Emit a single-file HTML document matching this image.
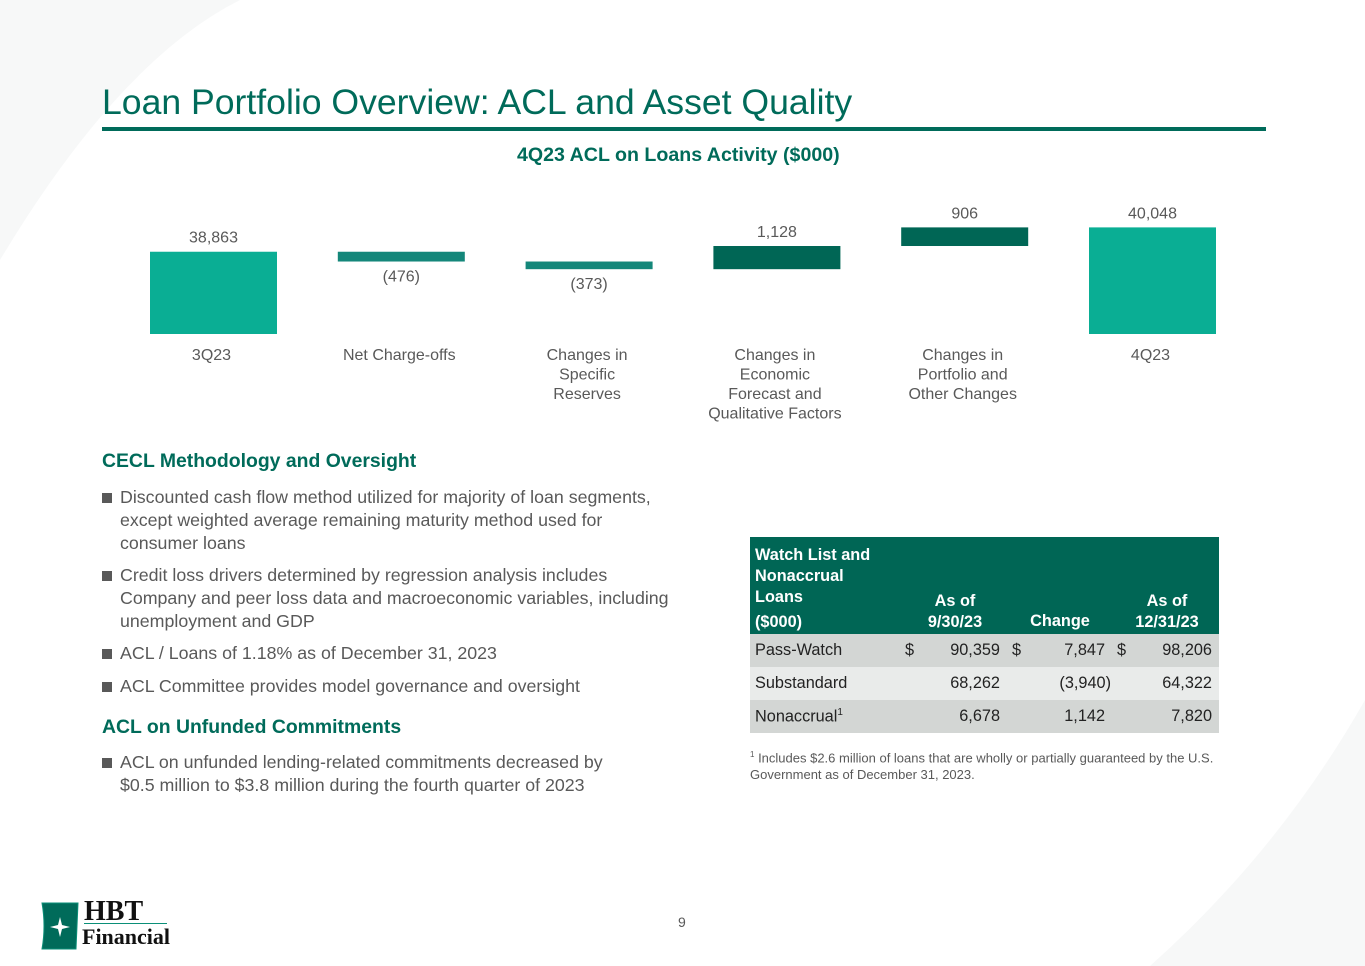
<!DOCTYPE html>
<html><head><meta charset="utf-8">
<style>
*{margin:0;padding:0;box-sizing:border-box}
body{width:1365px;height:966px;position:relative;background:#fff;font-family:"Liberation Sans",Arial,sans-serif;overflow:hidden}
.abs{position:absolute}
.bul{position:absolute;left:102px;font-size:17.8px;color:#595959;line-height:23px}
.bul span.sq{position:absolute;left:0;top:7px;width:10px;height:10px;background:#595959}
.bul div{margin-left:18px}
.hd{position:absolute;left:102px;font-size:19.4px;font-weight:bold;color:#006b5a}
.cell{position:absolute;font-size:16.3px;color:#222}
</style></head><body>
<svg class="abs" style="left:0;top:0" width="1365" height="966">
<path d="M0 260 Q120 60 240 0 L0 0 Z" fill="#f7f8f8"/>
<path d="M1365 700 Q1280 850 1150 966 L1365 966 Z" fill="#f7f8f8"/>
</svg>
<div class="abs" style="left:102px;top:82px;font-size:35.6px;color:#006b5a">Loan Portfolio Overview: ACL and Asset Quality</div>
<div class="abs" style="left:102px;top:127px;width:1164px;height:4px;background:#006b5a"></div>
<div class="abs" style="left:517px;top:144px;font-size:19.6px;font-weight:bold;color:#006b5a">4Q23 ACL on Loans Activity ($000)</div>
<svg id="chart" class="abs" style="left:0;top:190px" width="1365" height="240"></svg>

<div class="hd" style="top:450px">CECL Methodology and Oversight</div>
<div class="bul" style="top:486px"><span class="sq"></span><div>Discounted cash flow method utilized for majority of loan segments,<br>except weighted average remaining maturity method used for<br>consumer loans</div></div>
<div class="bul" style="top:564px"><span class="sq"></span><div>Credit loss drivers determined by regression analysis includes<br>Company and peer loss data and macroeconomic variables, including<br>unemployment and GDP</div></div>
<div class="bul" style="top:642px"><span class="sq"></span><div>ACL / Loans of 1.18% as of December 31, 2023</div></div>
<div class="bul" style="top:675px"><span class="sq"></span><div>ACL Committee provides model governance and oversight</div></div>
<div class="hd" style="top:716px">ACL on Unfunded Commitments</div>
<div class="bul" style="top:751px"><span class="sq"></span><div>ACL on unfunded lending-related commitments decreased by<br>$0.5 million to $3.8 million during the fourth quarter of 2023</div></div>

<div class="abs" style="left:750px;top:537px;width:469px;height:196px">
 <div class="abs" style="left:0;top:0;width:469px;height:97px;background:#006655"></div>
 <div class="abs" style="left:0;top:97px;width:469px;height:33px;background:#d3d6d4"></div>
 <div class="abs" style="left:0;top:130px;width:469px;height:33px;background:#e9ebea"></div>
 <div class="abs" style="left:0;top:163px;width:469px;height:33px;background:#d3d6d4"></div>
 <div class="cell" style="left:5px;top:8px;color:#fff;font-weight:bold;font-size:16.3px;line-height:21px">Watch List and<br>Nonaccrual<br>Loans<br><span style="display:block;margin-top:4px">($000)</span></div>
 <div class="cell" style="left:150px;width:110px;top:54px;color:#fff;font-weight:bold;text-align:center;line-height:21px">As of<br>9/30/23</div>
 <div class="cell" style="left:270px;width:80px;top:75px;color:#fff;font-weight:bold;text-align:center">Change</div>
 <div class="cell" style="left:362px;width:110px;top:54px;color:#fff;font-weight:bold;text-align:center;line-height:21px">As of<br>12/31/23</div>
 <div class="cell" style="left:5px;top:104px">Pass-Watch</div>
 <div class="cell" style="left:155px;top:104px">$</div>
 <div class="cell" style="left:150px;width:100px;top:104px;text-align:right">90,359</div>
 <div class="cell" style="left:262px;top:104px">$</div>
 <div class="cell" style="left:255px;width:100px;top:104px;text-align:right">7,847</div>
 <div class="cell" style="left:367px;top:104px">$</div>
 <div class="cell" style="left:362px;width:100px;top:104px;text-align:right">98,206</div>
 <div class="cell" style="left:5px;top:137px">Substandard</div>
 <div class="cell" style="left:150px;width:100px;top:137px;text-align:right">68,262</div>
 <div class="cell" style="left:260px;width:101px;top:137px;text-align:right">(3,940)</div>
 <div class="cell" style="left:362px;width:100px;top:137px;text-align:right">64,322</div>
 <div class="cell" style="left:5px;top:170px">Nonaccrual<sup style="font-size:10px">1</sup></div>
 <div class="cell" style="left:150px;width:100px;top:170px;text-align:right">6,678</div>
 <div class="cell" style="left:255px;width:100px;top:170px;text-align:right">1,142</div>
 <div class="cell" style="left:362px;width:100px;top:170px;text-align:right">7,820</div>
</div>
<div class="abs" style="left:750px;top:746px;font-size:13px;color:#595959;line-height:17px"><sup style="font-size:8px">1</sup> Includes $2.6 million of loans that are wholly or partially guaranteed by the U.S.<br>Government as of December 31, 2023.</div>

<div class="abs" style="left:678px;top:914px;font-size:14px;color:#595959">9</div>
<div class="abs" style="left:40px;top:900px;width:130px;height:52px">
 <svg width="40" height="50" style="position:absolute;left:0;top:2px"><path d="M2 1 L38 1 L36 47 L2 47 Q6 24 2 1Z" fill="#006b5a" stroke="#0a8f78"/><path d="M20 15 L22 23 L30 25 L22 27 L20 35 L18 27 L10 25 L18 23Z" fill="#fff"/></svg>
 <div style="position:absolute;left:44px;top:-4px;font-family:'Liberation Serif',serif;font-weight:bold;font-size:28px;color:#111">HBT</div>
 <div style="position:absolute;left:44px;top:23px;width:83px;height:1px;background:#0a8f78"></div>
 <div style="position:absolute;left:42px;top:24px;font-family:'Liberation Serif',serif;font-weight:bold;font-size:22px;color:#111">Financial</div>
</div>

<script>
const categories=["3Q23","Net Charge-offs","Changes in|Specific|Reserves","Changes in|Economic|Forecast and|Qualitative Factors","Changes in|Portfolio and|Other Changes","4Q23"];
const values=[38863,-476,-373,1128,906,40048];
const valueLabels=["38,863","(476)","(373)","1,128","906","40,048"];
const kinds=["total","delta","delta","delta","delta","total"];
const svg=document.getElementById('chart');
const NS="http://www.w3.org/2000/svg";
const yMin=34860, pxPerUnit=0.02055, baseY=144;
function y(v){return baseY-(v-yMin)*pxPerUnit;}
function x(i){return 150+i*187.8;}
const bw=127;
let run=0;
values.forEach((v,i)=>{
  let top,bot,col;
  if(kinds[i]==="total"){top=y(v);bot=y(yMin);col="#0aae94";run=v;}
  else{const a=run,b=run+v;top=y(Math.max(a,b));bot=y(Math.min(a,b));col=v<0?"#14877a":"#006655";run=b;}
  const r=document.createElementNS(NS,'rect');
  r.setAttribute('x',x(i));r.setAttribute('y',top);r.setAttribute('width',bw);r.setAttribute('height',bot-top);r.setAttribute('fill',col);
  
  
  svg.appendChild(r);
  const t=document.createElementNS(NS,'text');
  t.setAttribute('x',x(i)+bw/2);t.setAttribute('text-anchor','middle');
  t.setAttribute('y',v<0?bot+20:top-9);
  t.setAttribute('font-size','16');t.setAttribute('fill','#595959');t.setAttribute('font-family','Liberation Sans, sans-serif');
  t.textContent=valueLabels[i];
  
  
  svg.appendChild(t);
  categories[i].split('|').forEach((ln,k)=>{
    const c=document.createElementNS(NS,'text');
    c.setAttribute('x',x(i)+bw/2-2);c.setAttribute('y',170+k*19.5);c.setAttribute('text-anchor','middle');
    c.setAttribute('font-size','16');c.setAttribute('fill','#595959');c.setAttribute('font-family','Liberation Sans, sans-serif');
    c.textContent=ln;
    
    
    svg.appendChild(c);
  });
});
</script>
</body></html>
